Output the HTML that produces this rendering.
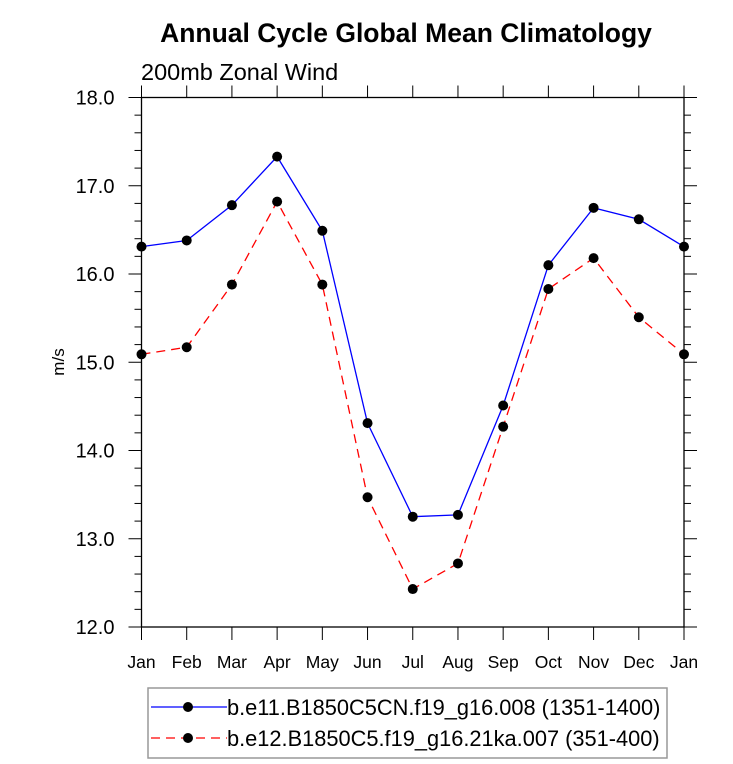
<!DOCTYPE html>
<html><head><meta charset="utf-8"><style>body{margin:0;background:#fff}svg{display:block;font-family:"Liberation Sans",sans-serif}</style></head>
<body>
<svg id="c" width="733" height="764">
<text x="406" y="42" text-anchor="middle" font-size="26.5" font-weight="bold">Annual Cycle Global Mean Climatology</text>
<text x="141" y="80" font-size="23.5">200mb Zonal Wind</text>
<text transform="translate(64,362) rotate(-90)" text-anchor="middle" font-size="17">m/s</text>
<g id="ax"></g>
<rect x="148" y="688" width="519" height="70" fill="#fff" stroke="#999" stroke-width="1.5"/>
<g><line x1="151" y1="707" x2="227" y2="707" stroke="#00f" stroke-width="1.3"/><circle cx="188" cy="707" r="5" fill="#000"/><text x="227" y="715" font-size="21.8">b.e11.B1850C5CN.f19_g16.008 (1351-1400)</text></g>
<g><line x1="151" y1="738" x2="227" y2="738" stroke="#f00" stroke-width="1.3" stroke-dasharray="9,6"/><circle cx="188" cy="738" r="5" fill="#000"/><text x="227" y="746" font-size="21.8">b.e12.B1850C5.f19_g16.21ka.007 (351-400)</text></g>
</svg>
<script>
const months=["Jan","Feb","Mar","Apr","May","Jun","Jul","Aug","Sep","Oct","Nov","Dec","Jan"];
const yTicks=[12,13,14,15,16,17,18];
const seriesA=[16.31,16.38,16.78,17.33,16.49,14.31,13.25,13.27,14.51,16.10,16.75,16.62,16.31];
const seriesB=[15.09,15.17,15.88,16.82,15.88,13.47,12.43,12.72,14.27,15.83,16.18,15.51,15.09];
const L=141.5,R=684,T=97.5,B=627;
const x=i=>L+(R-L)*i/12, y=v=>B-(B-T)*(v-12)/6;
const g=document.getElementById('ax'),NS='http://www.w3.org/2000/svg';
function mk(t,a,p){const e=document.createElementNS(NS,t);for(const k in a)e.setAttribute(k,a[k]);(p||g).appendChild(e);return e;}
const frame=mk('rect',{x:L,y:T,width:R-L,height:B-T,fill:'none',stroke:'#000','stroke-width':1.3});


for(let v=12;v<=18.001;v+=0.2){const maj=Math.abs(v-Math.round(v))<0.01,len=maj?13:7;
mk('line',{x1:L-len,y1:y(v),x2:L,y2:y(v),stroke:'#000','stroke-width':1});
mk('line',{x1:R,y1:y(v),x2:R+len,y2:y(v),stroke:'#000','stroke-width':1});}
yTicks.forEach(v=>{const t=mk('text',{x:L-27,y:y(v)+7,'text-anchor':'end','font-size':20});t.textContent=v.toFixed(1);

});
months.forEach((m,i)=>{mk('line',{x1:x(i),y1:B,x2:x(i),y2:B+13,stroke:'#000','stroke-width':1});
mk('line',{x1:x(i),y1:T,x2:x(i),y2:T-12,stroke:'#000','stroke-width':1});
const t=mk('text',{x:x(i),y:668,'text-anchor':'middle','font-size':17.5});t.textContent=m;

});
function series(d,col,dash,name){const p=mk('polyline',{points:d.map((v,i)=>x(i)+','+y(v)).join(' '),fill:'none',stroke:col,'stroke-width':1.3,'stroke-dasharray':dash});


d.forEach((v,i)=>{const c=mk('circle',{cx:x(i),cy:y(v),r:5,fill:'#000'});

});}
series(seriesA,'#00f','none','series-a');
series(seriesB,'#f00','9,6','series-b');
</script>
</body></html>
